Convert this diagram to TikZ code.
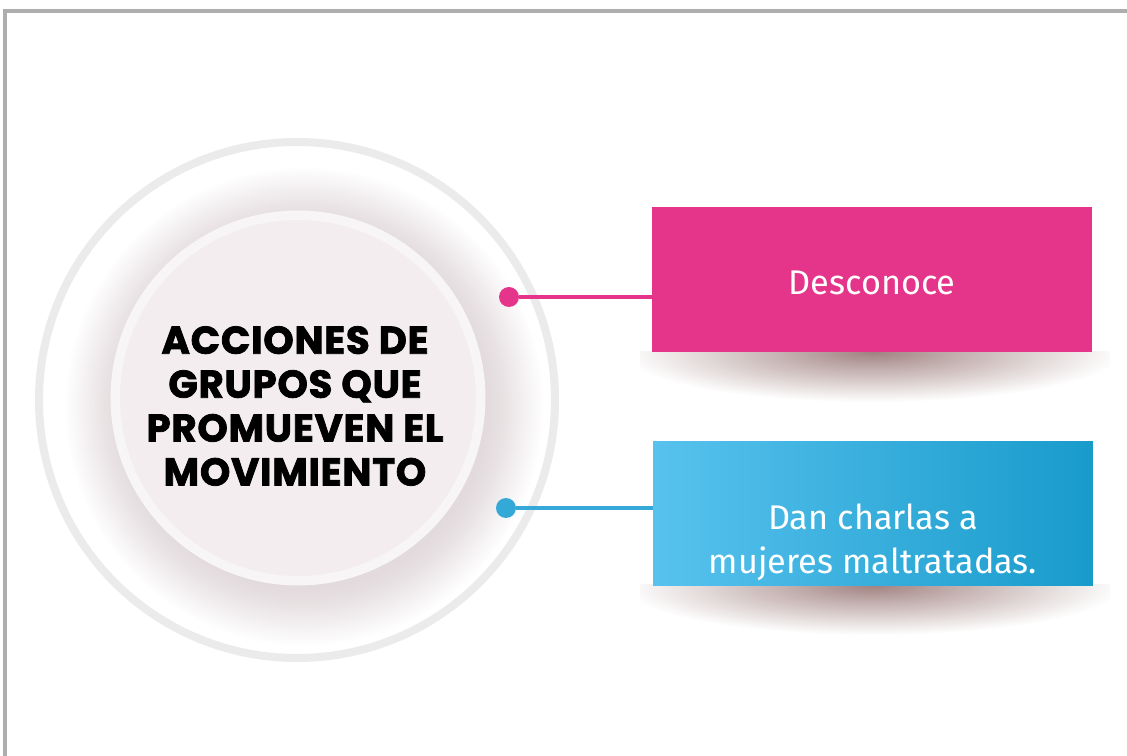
\documentclass[tikz,border=0pt]{standalone}
\usepackage{fontspec}
\setmainfont{Fira Sans}
\newfontfamily\hubfont{Poppins}[BoldFeatures={FakeBold=2,LetterSpace=2}]
\usetikzlibrary{positioning}

\definecolor{framegray}{RGB}{174,174,174}
\definecolor{ringgray}{RGB}{235,235,235}
\definecolor{halogray}{RGB}{226,218,220}
\definecolor{hubrim}{RGB}{248,245,246}
\definecolor{hubdisk}{RGB}{243,237,239}
\definecolor{shadowbrown}{RGB}{160,130,128}
\definecolor{pinkbox}{RGB}{229,53,139}
\definecolor{bluel}{RGB}{88,194,238}
\definecolor{bluer}{RGB}{24,155,203}
\definecolor{blueline}{RGB}{52,169,216}

\pgfdeclareradialshading{hubhalo}{\pgfpoint{0bp}{0bp}}{color(0bp)=(halogray); color(19bp)=(halogray); color(21bp)=(halogray!75!white); color(25bp)=(white); color(50bp)=(white)}
\pgfdeclareradialshading{boxshadow}{\pgfpoint{0bp}{0bp}}{color(0bp)=(shadowbrown); color(7bp)=(shadowbrown!70!white); color(25bp)=(white); color(50bp)=(white)}

\begin{document}
\begin{tikzpicture}[x=0.02cm,y=-0.02cm,
    hub/.style={circle,fill=hubrim,inner sep=0pt,minimum size=7.5cm},
    title/.style={align=center,font=\hubfont\bfseries\fontsize{22}{25}\selectfont},
    item/.style={rectangle,inner sep=0pt,minimum width=8.8cm,minimum height=2.9cm},
    itemtext/.style={text=white,align=center,font=\fontsize{19.5}{25}\selectfont},
    pin/.style={circle,inner sep=0pt,minimum size=0.4cm},
    link/.style={line width=0.08cm}]
    \useasboundingbox (0,0) rectangle (1127,756);
    \fill[white] (0,0) rectangle (1127,756);
    \draw[framegray,line width=0.07cm] (5,756) -- (5,11) -- (1127,11);

    \shade[shading=hubhalo] (304,406) circle [radius=240];
    \draw[ringgray,line width=0.16cm] (297,400) circle [radius=258];
    \node[hub] (hub) at (298,398) {};
    \fill[hubdisk] (hub.center) circle [radius=178];
    \node[title] (title) at (295,406) {ACCIONES DE\\GRUPOS QUE\\PROMUEVEN EL\\MOVIMIENTO};

    \begin{scope}
        \clip (640,352) rectangle (1110,420);
        \shade[shading=boxshadow] (872,352) ellipse [x radius=250, y radius=50];
    \end{scope}
    \begin{scope}
        \clip (640,585) rectangle (1110,650);
        \shade[shading=boxshadow] (873,585) ellipse [x radius=250, y radius=50];
    \end{scope}

    \node[item,fill=pinkbox] (unknown) at (872,279.5) {};
    \node[itemtext] (unknowntext) at ([yshift=-0.06cm]unknown.center) {Desconoce};
    \node[item,left color=bluel,right color=bluer] (talks) at (873,513.5) {};
    \node[itemtext] (talkstext) at ([yshift=-0.58cm]talks.center) {Dan charlas a\\mujeres maltratadas.};

    \node[pin,fill=pinkbox] (pinA) at (509,297) {};
    \node[pin,fill=blueline] (pinB) at (506,508) {};
    \draw[link,pinkbox] (pinA) -- (pinA -| unknown.west);
    \draw[link,blueline] (pinB) -- (pinB -| talks.west);
\end{tikzpicture}
\end{document}
